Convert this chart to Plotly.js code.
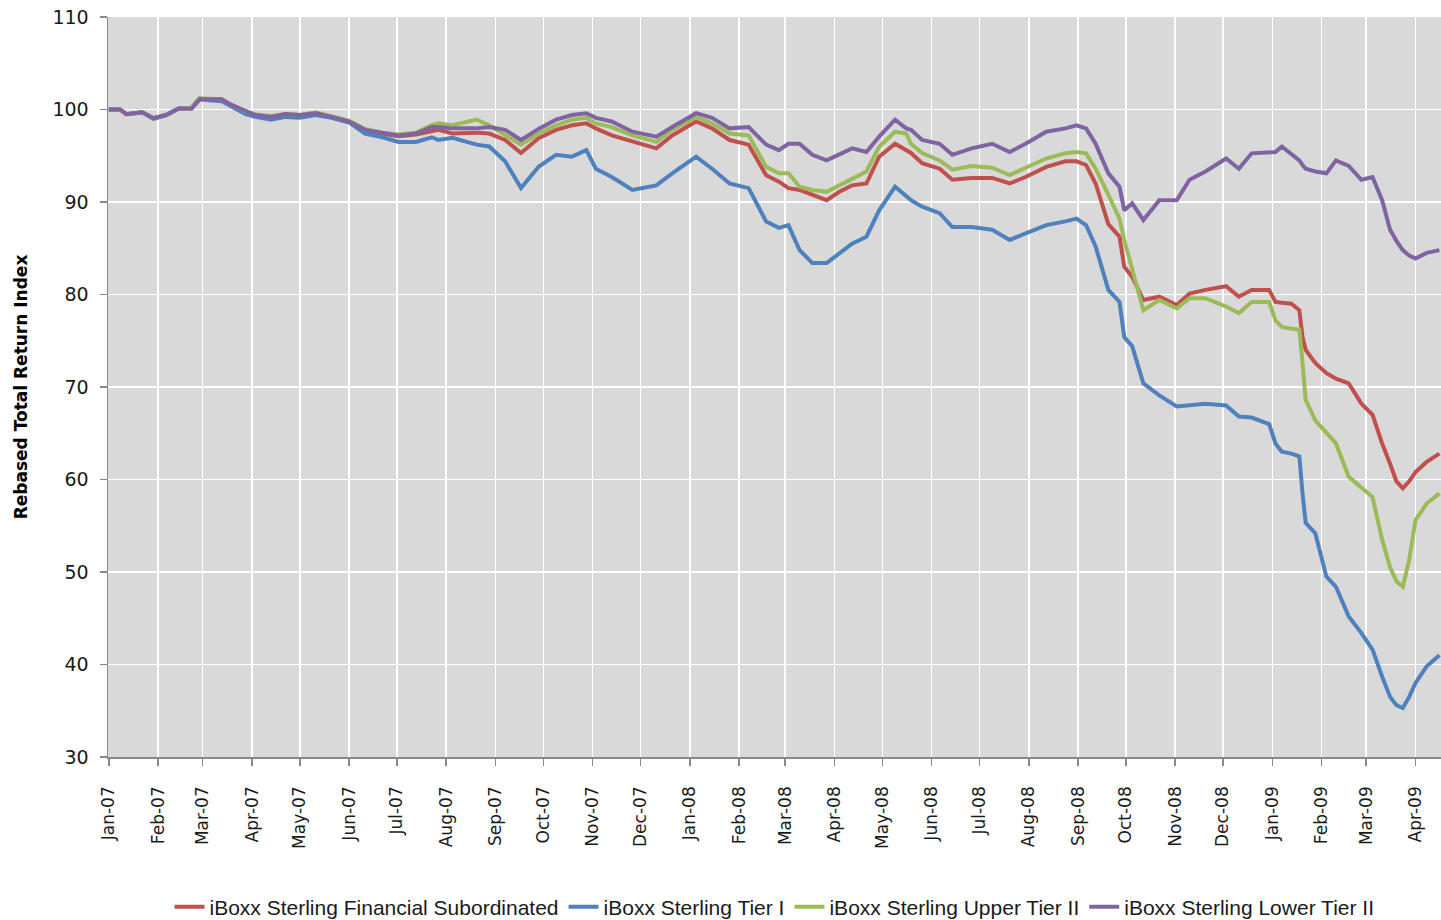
<!DOCTYPE html>
<html>
<head>
<meta charset="utf-8">
<script src="https://cdn.plot.ly/plotly-3.0.1.min.js"></script>
<style>
html,body{margin:0;padding:0;background:#fff;}
#chart{width:1441px;height:920px;}
</style>
</head>
<body>
<div id="chart"></div>
<script>
const dates = [
"2007-01-01","2007-01-08","2007-01-12","2007-01-22","2007-01-29","2007-02-06","2007-02-14","2007-02-22","2007-02-27","2007-03-05",
"2007-03-13","2007-03-19","2007-03-28","2007-04-03","2007-04-13","2007-04-22","2007-05-01","2007-05-11","2007-05-21","2007-06-01",
"2007-06-11","2007-06-22","2007-07-02","2007-07-13","2007-07-23","2007-07-27","2007-08-05","2007-08-20","2007-08-28","2007-09-07",
"2007-09-17","2007-09-28","2007-10-09","2007-10-19","2007-10-28","2007-11-03","2007-11-13","2007-11-26","2007-12-11","2007-12-21",
"2008-01-05","2008-01-15","2008-01-26","2008-02-07","2008-02-18","2008-02-26","2008-03-03","2008-03-10","2008-03-18","2008-03-27",
"2008-04-04","2008-04-12","2008-04-21","2008-04-29","2008-05-09","2008-05-16","2008-05-19","2008-05-26","2008-06-06","2008-06-14",
"2008-06-26","2008-07-09","2008-07-20","2008-07-30","2008-08-12","2008-08-24","2008-08-31","2008-09-06","2008-09-12","2008-09-20",
"2008-09-27","2008-09-30","2008-10-05","2008-10-12","2008-10-22","2008-11-02","2008-11-10","2008-11-20","2008-12-03","2008-12-11",
"2008-12-19","2008-12-30","2009-01-03","2009-01-07","2009-01-13","2009-01-18","2009-01-20","2009-01-22","2009-01-28","2009-02-04",
"2009-02-10","2009-02-18","2009-02-26","2009-03-05","2009-03-11","2009-03-16","2009-03-20","2009-03-24","2009-03-28","2009-04-01",
"2009-04-08","2009-04-16"
];

const finSub = [
100.0,100.0,99.5,99.7,99.05,99.4,100.1,100.1,101.1,101.1,
101.0,100.5,99.7,99.4,99.2,99.4,99.3,99.6,99.2,98.7,
97.7,97.4,97.1,97.3,97.6,97.8,97.4,97.5,97.4,96.7,
95.3,96.9,97.8,98.3,98.5,97.96,97.2,96.5,95.8,97.2,
98.7,97.96,96.7,96.2,92.9,92.2,91.5,91.3,90.8,90.2,
91.1,91.8,92.0,94.9,96.3,95.6,95.3,94.2,93.6,92.4,
92.6,92.6,92.0,92.7,93.8,94.4,94.4,94.0,92.0,87.6,
86.25,83.0,81.9,79.4,79.76,78.86,80.1,80.5,80.9,79.76,
80.5,80.5,79.2,79.1,79.0,78.3,75.4,74.0,72.6,71.5,
70.9,70.4,68.2,67.0,63.9,61.7,59.8,59.05,59.8,60.8,
61.9,62.8
];

const tier1 = [
100.0,100.0,99.5,99.7,99.0,99.4,100.1,100.2,101.2,101.0,
100.9,100.3,99.5,99.2,98.9,99.2,99.1,99.4,99.1,98.6,
97.4,97.0,96.5,96.5,97.0,96.7,96.95,96.2,96.0,94.4,
91.5,93.8,95.1,94.9,95.6,93.6,92.7,91.3,91.8,93.1,
94.9,93.6,92.0,91.5,87.9,87.2,87.5,84.8,83.4,83.4,
84.45,85.5,86.25,89.1,91.65,90.6,90.2,89.5,88.8,87.3,
87.3,87.0,85.9,86.6,87.5,87.9,88.2,87.5,85.2,80.5,
79.2,75.4,74.4,70.4,69.1,67.9,68.0,68.2,68.0,66.8,
66.7,66.0,63.9,63.0,62.8,62.5,58.5,55.3,54.2,49.5,
48.4,45.2,43.4,41.6,38.7,36.5,35.6,35.3,36.5,38.0,
39.8,41.0
];

const upperT2 = [
100.0,100.0,99.5,99.7,99.0,99.4,100.1,100.2,101.2,101.2,
101.1,100.5,99.8,99.5,99.3,99.5,99.4,99.7,99.3,98.8,
97.9,97.5,97.3,97.5,98.3,98.5,98.3,98.9,98.3,97.2,
96.2,97.4,98.3,98.9,99.1,98.5,98.1,97.2,96.5,97.8,
99.2,98.5,97.4,97.2,93.8,93.1,93.1,91.65,91.3,91.1,
91.8,92.6,93.3,95.98,97.6,97.4,96.3,95.3,94.5,93.5,
93.9,93.7,92.9,93.7,94.7,95.26,95.4,95.26,93.6,90.8,
88.2,85.9,82.65,78.3,79.4,78.5,79.6,79.6,78.7,78.0,
79.2,79.2,77.2,76.5,76.3,76.2,72.6,68.6,66.4,65.0,
63.9,60.3,59.2,58.1,53.5,50.5,49.0,48.4,51.3,55.6,
57.4,58.5
];

const lowerT2 = [
100.0,100.0,99.5,99.7,99.05,99.4,100.1,100.1,101.1,101.1,
101.1,100.5,99.8,99.4,99.2,99.5,99.4,99.6,99.2,98.7,
97.8,97.5,97.2,97.4,98.1,98.1,97.96,97.96,98.1,97.8,
96.7,97.9,98.9,99.4,99.6,99.1,98.7,97.6,97.06,98.1,
99.6,99.1,97.96,98.1,96.2,95.6,96.3,96.3,95.1,94.5,
95.1,95.8,95.4,97.06,98.9,97.96,97.8,96.7,96.3,95.1,
95.8,96.3,95.4,96.3,97.6,97.96,98.3,97.96,96.3,93.1,
91.65,89.1,89.86,88.05,90.2,90.2,92.4,93.3,94.7,93.6,
95.26,95.4,95.4,96.0,95.2,94.5,94.0,93.6,93.3,93.1,
94.5,93.9,92.4,92.7,90.2,87.0,85.8,84.8,84.2,83.9,
84.5,84.8
];

const seriesNames = [
"iBoxx Sterling Financial Subordinated",
"iBoxx Sterling Tier I",
"iBoxx Sterling Upper Tier II",
"iBoxx Sterling Lower Tier II"
];
const seriesColors = ["#c0504d","#4f81bd","#9bbb59","#8064a2"];
const seriesValues = [finSub, tier1, upperT2, lowerT2];

const tickDates = [
"2007-01-01","2007-02-01","2007-03-01","2007-04-01","2007-05-01","2007-06-01","2007-07-01","2007-08-01","2007-09-01","2007-10-01","2007-11-01","2007-12-01",
"2008-01-01","2008-02-01","2008-03-01","2008-04-01","2008-05-01","2008-06-01","2008-07-01","2008-08-01","2008-09-01","2008-10-01","2008-11-01","2008-12-01",
"2009-01-01","2009-02-01","2009-03-01","2009-04-01"
];
const tickLabels = [
"Jan-07","Feb-07","Mar-07","Apr-07","May-07","Jun-07","Jul-07","Aug-07","Sep-07","Oct-07","Nov-07","Dec-07",
"Jan-08","Feb-08","Mar-08","Apr-08","May-08","Jun-08","Jul-08","Aug-08","Sep-08","Oct-08","Nov-08","Dec-08",
"Jan-09","Feb-09","Mar-09","Apr-09"
];

const traces = seriesValues.map((vals, i) => ({
  type: "scatter",
  mode: "lines",
  x: dates,
  y: vals,
  name: seriesNames[i],
  line: {color: seriesColors[i], width: 4, shape: "linear"}
}));

const layout = {
  width: 1441,
  height: 920,
  margin: {l: 108, r: 0, t: 17, b: 163, autoexpand: false},
  paper_bgcolor: "#ffffff",
  plot_bgcolor: "#d9d9d9",
  font: {family: "DejaVu Sans, Verdana, sans-serif", color: "#1a1a1a", size: 17},
  showlegend: true,
  legend: {
    orientation: "h",
    x: 0.5, xanchor: "center",
    y: -0.203, yanchor: "middle",
    font: {family: "Liberation Sans, Arial, sans-serif", size: 21, color: "#1a1a1a"},
    bgcolor: "rgba(0,0,0,0)"
  },
  xaxis: {
    type: "date",
    range: ["2006-12-31 12:00", "2009-04-17"],
    tickmode: "array",
    tickvals: tickDates,
    ticktext: tickLabels,
    tickangle: -90,
    ticks: "outside",
    ticklen: 7,
    tickcolor: "#888888",
    tickwidth: 1.5,
    ticklabelstandoff: 14,
    showline: true,
    linecolor: "#888888",
    linewidth: 1.5,
    showgrid: true,
    gridcolor: "#ffffff",
    gridwidth: 1.5,
    zeroline: false,
    automargin: false,
    tickfont: {size: 17, color: "#1a1a1a", family: "DejaVu Sans, Verdana, sans-serif"},
    fixedrange: true
  },
  yaxis: {
    range: [30, 110],
    tickmode: "linear",
    tick0: 30,
    dtick: 10,
    ticks: "outside",
    ticklen: 7,
    tickcolor: "#888888",
    tickwidth: 1.5,
    ticklabelstandoff: 7,
    showline: true,
    linecolor: "#888888",
    linewidth: 1.5,
    showgrid: true,
    gridcolor: "#ffffff",
    gridwidth: 1.5,
    zeroline: false,
    tickfont: {size: 19, color: "#1a1a1a", family: "DejaVu Sans, Verdana, sans-serif"},
    title: {
      text: "Rebased Total Return Index",
      font: {size: 17, color: "#000000", family: "DejaVu Sans, Verdana, sans-serif", weight: "bold"},
      standoff: 20
    },
    automargin: false,
    fixedrange: true
  }
};

Plotly.newPlot("chart", traces, layout, {displayModeBar: false, staticPlot: true});
</script>
</body>
</html>
